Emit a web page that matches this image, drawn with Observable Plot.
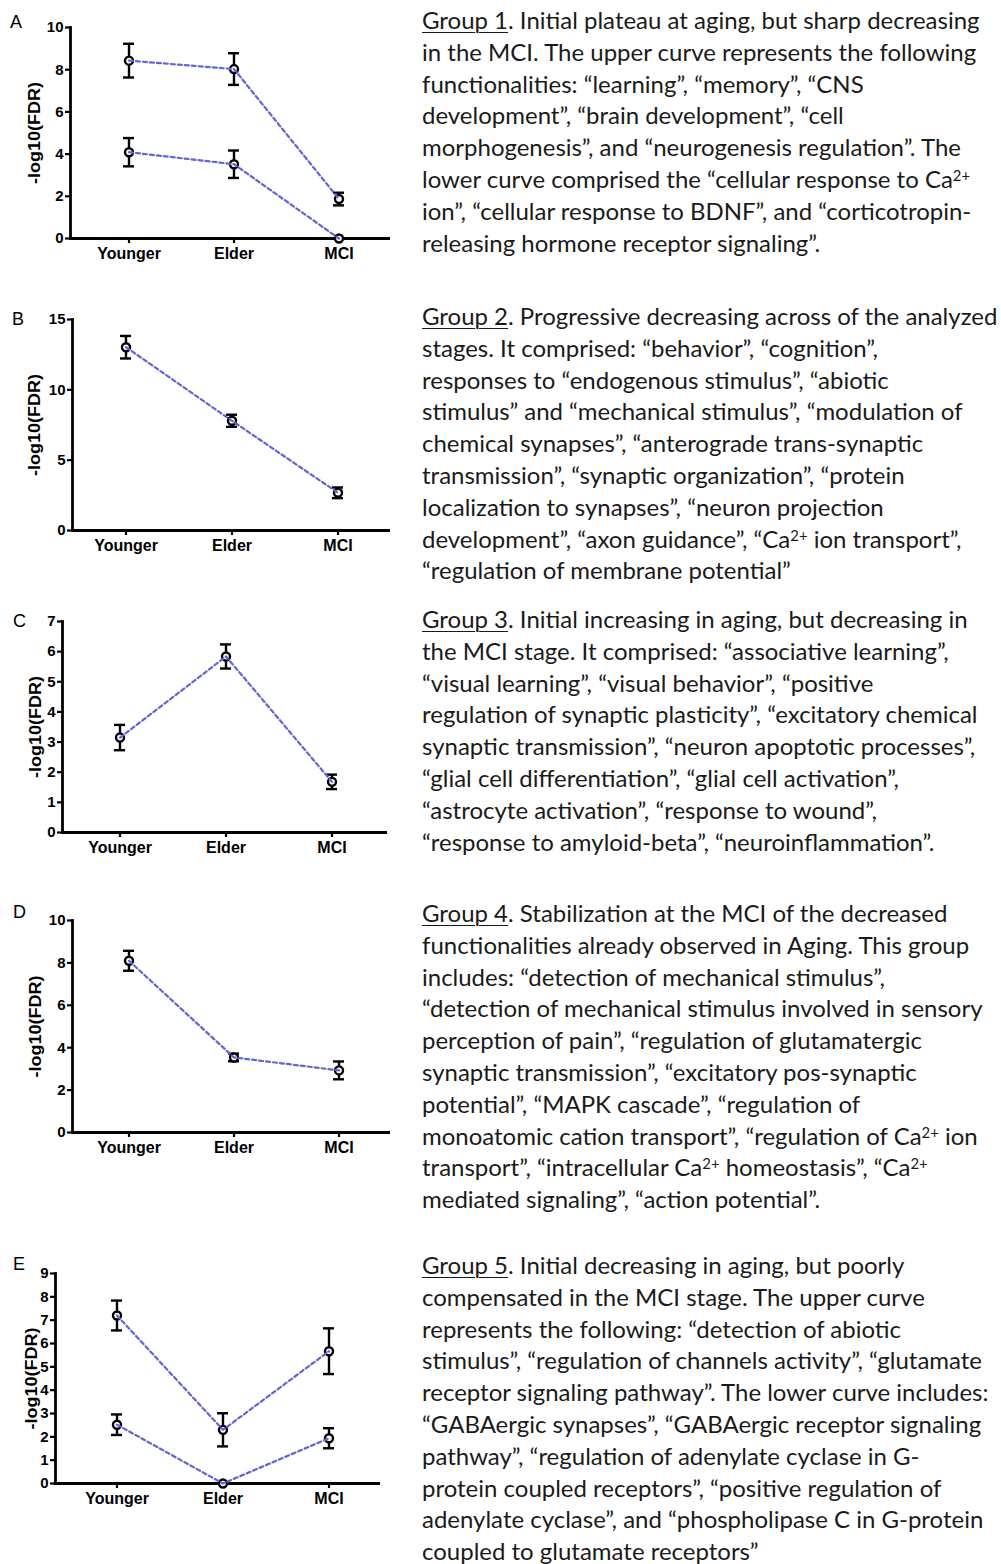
<!DOCTYPE html>
<html><head><meta charset="utf-8">
<script src="https://cdn.jsdelivr.net/npm/d3@7"></script>
<script src="https://cdn.jsdelivr.net/npm/@observablehq/plot@0.6"></script>
<style>
body{margin:0;background:#fff;width:1001px;height:1564px;position:relative;overflow:hidden;}
.panel{position:absolute;left:0;}
.letter{position:absolute;font-family:"Liberation Sans",Arial,sans-serif;font-size:18px;line-height:18px;color:#000;}
.cap{position:absolute;left:422px;font-family:Lato,sans-serif;color:#1a1a1a;white-space:nowrap;}
.cap .ln{height:31.8px;line-height:31.8px;}
.cap u{text-decoration-thickness:1px;text-underline-offset:3px;}
.cap sup{font-size:0.62em;line-height:0;vertical-align:0.5em;}
.bm{display:inline-block;width:0;height:0;vertical-align:baseline;}
</style></head><body>
<script>
// ---------- data ----------
const stages = ["Younger", "Elder", "MCI"];
const yLabel = "-log10(FDR)";

// Panel A (two curves)
const aUpperMean = [8.43, 8.03, 1.87];
const aUpperErr  = [0.80, 0.75, 0.30];
const aLowerMean = [4.09, 3.52, 0.00];
const aLowerErr  = [0.67, 0.65, 0.00];
const aTicks = [0, 2, 4, 6, 8, 10];

// Panel B
const bMean = [13.03, 7.80, 2.68];
const bErr  = [0.80, 0.43, 0.38];
const bTicks = [0, 5, 10, 15];

// Panel C
const cMean = [3.15, 5.84, 1.68];
const cErr  = [0.42, 0.40, 0.24];
const cTicks = [0, 1, 2, 3, 4, 5, 6, 7];

// Panel D
const dMean = [8.10, 3.54, 2.93];
const dErr  = [0.47, 0.18, 0.42];
const dTicks = [0, 2, 4, 6, 8, 10];

// Panel E (two curves)
const eUpperMean = [7.20, 2.30, 5.67];
const eUpperErr  = [0.64, 0.71, 0.98];
const eLowerMean = [2.52, 0.00, 1.94];
const eLowerErr  = [0.44, 0.00, 0.43];
const eTicks = [0, 1, 2, 3, 4, 5, 6, 7, 8, 9];

// Captions
const capA = [
 "<u>Group 1</u>. Initial plateau at aging, but sharp decreasing",
 "in the MCI. The upper curve represents the following",
 "functionalities: “learning”, “memory”, “CNS",
 "development”, “brain development”, “cell",
 "morphogenesis”, and “neurogenesis regulation”. The",
 "lower curve comprised the “cellular response to Ca<sup>2+</sup>",
 "ion”, “cellular response to BDNF”, and “corticotropin-",
 "releasing hormone receptor signaling”."
];
const capB = [
 "<u>Group 2</u>. Progressive decreasing across of the analyzed",
 "stages. It comprised: “behavior”, “cognition”,",
 "responses to “endogenous stimulus”, “abiotic",
 "stimulus” and “mechanical stimulus”, “modulation of",
 "chemical synapses”, “anterograde trans-synaptic",
 "transmission”, “synaptic organization”, “protein",
 "localization to synapses”, “neuron projection",
 "development”, “axon guidance”, “Ca<sup>2+</sup> ion transport”,",
 "“regulation of membrane potential”"
];
const capC = [
 "<u>Group 3</u>. Initial increasing in aging, but decreasing in",
 "the MCI stage. It comprised: “associative learning”,",
 "“visual learning”, “visual behavior”, “positive",
 "regulation of synaptic plasticity”, “excitatory chemical",
 "synaptic transmission”, “neuron apoptotic processes”,",
 "“glial cell differentiation”, “glial cell activation”,",
 "“astrocyte activation”, “response to wound”,",
 "“response to amyloid-beta”, “neuroinflammation”."
];
const capD = [
 "<u>Group 4</u>. Stabilization at the MCI of the decreased",
 "functionalities already observed in Aging. This group",
 "includes: “detection of mechanical stimulus”,",
 "“detection of mechanical stimulus involved in sensory",
 "perception of pain”, “regulation of glutamatergic",
 "synaptic transmission”, “excitatory pos-synaptic",
 "potential”, “MAPK cascade”, “regulation of",
 "monoatomic cation transport”, “regulation of Ca<sup>2+</sup> ion",
 "transport”, “intracellular Ca<sup>2+</sup> homeostasis”, “Ca<sup>2+</sup>",
 "mediated signaling”, “action potential”."
];
const capE = [
 "<u>Group 5</u>. Initial decreasing in aging, but poorly",
 "compensated in the MCI stage. The upper curve",
 "represents the following: “detection of abiotic",
 "stimulus”, “regulation of channels activity”, “glutamate",
 "receptor signaling pathway”. The lower curve includes:",
 "“GABAergic synapses”, “GABAergic receptor signaling",
 "pathway”, “regulation of adenylate cyclase in G-",
 "protein coupled receptors”, “positive regulation of",
 "adenylate cyclase”, and “phospholipase C in G-protein",
 "coupled to glutamate receptors”"
];

// ---------- layout ----------
const panels = [
 {letter:"A", top:0,    h:290, axisX:70, yTop:27,   yBottom:238,  xRight:390, x0:128, x2:339, yMax:10, ticks:aTicks,
  series:[{mean:aUpperMean, err:aUpperErr},{mean:aLowerMean, err:aLowerErr}], labelX:34, letterX:10, letterBase:28, cap:capA, capBase:29},
 {letter:"B", top:295,  h:295, axisX:72, yTop:319,  yBottom:530,  xRight:390, x0:125, x2:338, yMax:15, ticks:bTicks,
  series:[{mean:bMean, err:bErr}], labelX:34, letterX:12, letterBase:325, cap:capB, capBase:325},
 {letter:"C", top:595,  h:295, axisX:62, yTop:621,  yBottom:832,  xRight:387, x0:119, x2:332, yMax:7, ticks:cTicks,
  series:[{mean:cMean, err:cErr}], labelX:35, letterX:13, letterBase:627, cap:capC, capBase:628},
 {letter:"D", top:895,  h:345, axisX:72, yTop:920,  yBottom:1132, xRight:390, x0:128, x2:338, yMax:10, ticks:dTicks,
  series:[{mean:dMean, err:dErr}], labelX:35, letterX:13, letterBase:918, cap:capD, capBase:922},
 {letter:"E", top:1245, h:319, axisX:55, yTop:1273, yBottom:1483, xRight:380, x0:116, x2:328, yMax:9, ticks:eTicks,
  series:[{mean:eUpperMean, err:eUpperErr},{mean:eLowerMean, err:eLowerErr}], labelX:31, letterX:13, letterBase:1270, cap:capE, capBase:1274}
];

function buildPanel(p) {
  const rows = [];
  p.series.forEach((s, si) => stages.forEach((st, i) => rows.push({
    series: si, stage: st, mean: s.mean[i], lo: s.mean[i] - s.err[i], hi: s.mean[i] + s.err[i], err: s.err[i]
  })));
  const bars = rows.filter(d => d.err > 0);
  const W = 400, bw = 11, step = (p.x2 - p.x0) / 2;
  const svg = Plot.plot({
    width: W, height: p.h,
    marginLeft: p.axisX, marginRight: W - p.xRight,
    marginTop: p.yTop - p.top, marginBottom: p.top + p.h - p.yBottom,
    style: {background: "transparent", fontFamily: "'Liberation Sans', Arial, sans-serif", color: "#000", overflow: "visible"},
    x: {type: "band", domain: stages, range: [p.x0 - bw / 2, p.x2 + bw / 2], paddingInner: 1 - bw / step, paddingOuter: 0},
    y: {domain: [0, p.yMax]},
    marks: [
      Plot.axisY({ticks: p.ticks, tickSize: 5, tickPadding: 2, fontSize: 15, fontWeight: "bold", label: null, strokeWidth: 2.2, tickFormat: d => String(d)}),
      Plot.axisX({tickSize: 5, tickPadding: 4, fontSize: 16, fontWeight: "bold", label: null, strokeWidth: 2.2}),
      Plot.ruleY([0], {stroke: "#000", strokeWidth: 2.8}),
      Plot.frame({anchor: "left", stroke: "#000", strokeWidth: 2.8}),
      Plot.ruleX(bars, {x: "stage", y1: "lo", y2: "hi", stroke: "#000", strokeWidth: 2.4}),
      Plot.tickY(bars, {x: "stage", y: "lo", stroke: "#000", strokeWidth: 2.4}),
      Plot.tickY(bars, {x: "stage", y: "hi", stroke: "#000", strokeWidth: 2.4}),
      Plot.dot(rows, {x: "stage", y: "mean", r: 4, stroke: "#000", strokeWidth: 2.4, fill: "#ffffff"}),
      Plot.line(rows, {x: "stage", y: "mean", z: "series", stroke: "#6464d4", strokeWidth: 2.2, strokeDasharray: "4,3"}),
      Plot.text([yLabel], {text: d => d, frameAnchor: "left", dx: p.labelX - p.axisX, rotate: -90,
        textAnchor: "middle", lineAnchor: "middle", fontSize: 16, fontWeight: "bold", fill: "#000"})
    ]
  });
  svg.querySelectorAll("text").forEach(t => {
    if (t.textContent === yLabel) { t.setAttribute("textLength", 102); t.setAttribute("lengthAdjust", "spacingAndGlyphs"); }
  });
  const wrap = document.createElement("div");
  wrap.className = "panel";
  wrap.style.top = p.top + "px";
  wrap.appendChild(svg);
  document.body.appendChild(wrap);

  const L = document.createElement("div");
  L.className = "letter";
  L.textContent = p.letter;
  L.style.left = p.letterX + "px";
  L.style.top = (p.letterBase - 15.3) + "px";
  document.body.appendChild(L);
}

// caption font size: first line of Group 1 spans ~566px, and no line runs past the page edge
const ctx = document.createElement("canvas").getContext("2d");
ctx.font = "100px Lato";
const strip = s => s.replace(/<[^>]+>/g, "");
const w1 = ctx.measureText("Group 1. Initial plateau at aging, but sharp decreasing").width;
const wMax = Math.max(...[capA, capB, capC, capD, capE].flat().map(l => ctx.measureText(strip(l)).width));
const capFont = Math.min(100 * 566 / w1, 100 * 576 / wMax);

function addCaption(lines, baseline) {
  const div = document.createElement("div");
  div.className = "cap";
  div.style.fontSize = capFont + "px";
  div.innerHTML = lines.map((l, i) => `<div class="ln">${i === 0 ? '<span class="bm"></span>' : ''}${l}</div>`).join("");
  div.style.top = "0px";
  document.body.appendChild(div);
  const r = div.querySelector(".bm").getBoundingClientRect();
  div.style.top = (baseline - r.top) + "px";
}

panels.forEach(p => { buildPanel(p); addCaption(p.cap, p.capBase); });
</script>
</body></html>
